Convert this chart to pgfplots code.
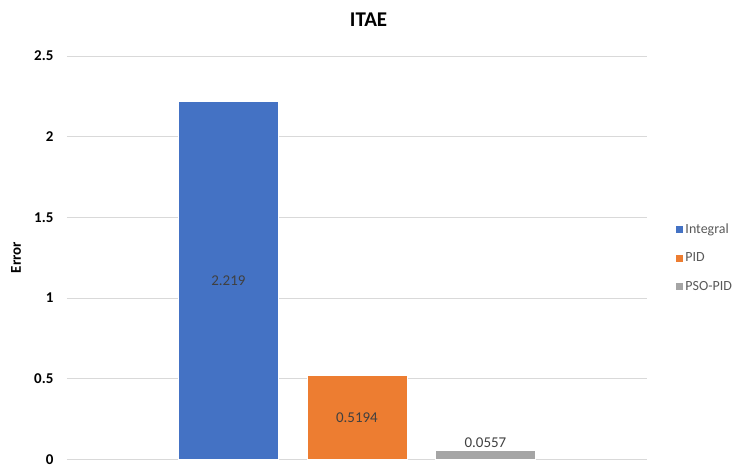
\documentclass[border=0pt]{standalone}
\usepackage{pgfplots}
\pgfplotsset{compat=1.18}
\usepackage{fontspec}
\setmainfont{Carlito}
\definecolor{cblue}{HTML}{4472C4}
\definecolor{corange}{HTML}{ED7D31}
\definecolor{cgray}{HTML}{A5A5A5}
\definecolor{gridc}{HTML}{D9D9D9}
\definecolor{labc}{HTML}{404040}
\definecolor{legc}{HTML}{595959}
\begin{document}
\begin{tikzpicture}
\begin{axis}[
  name=ax,
  scale only axis,
  width=581pt, height=404pt,
  xmin=-0.257, xmax=4.257,
  ymin=0, ymax=2.5,
  enlarge x limits=false,
  enlarge y limits=false,
  ytick={0,0.5,1,1.5,2,2.5},
  yticklabels={0,0.5,1,1.5,2,2.5},
  xtick=\empty,
  axis line style={draw=none},
  ymajorgrids, grid style={gridc, line width=0.8pt},
  major tick length=0pt,
  yticklabel style={font=\fontsize{15}{15}\selectfont\bfseries, text=black, xshift=-10pt},
  ylabel={\bfseries Error},
  ylabel style={font=\fontsize{15}{15}\selectfont, at={(axis description cs:-0.073,0.5)}, anchor=south},
  title={\bfseries ITAE},
  title style={font=\fontsize{21}{21}\selectfont, at={(axis description cs:0.52,1)}, anchor=south, yshift=20pt},
  ybar, bar width=0.777,
  legend style={draw=none, fill=none, at={(axis description cs:1.043,0.5)}, anchor=west,
    font=\fontsize{14}{14}\selectfont\color{legc}, row sep=14pt, legend cell align=left},
  legend image code/.code={\fill[#1] (0pt,-4pt) rectangle (8pt,4pt);},
  visualization depends on=rawy \as \rawy,
  nodes near coords style={font=\fontsize{15}{15}\selectfont, text=labc},
]
\addplot[fill=cblue, draw=white, bar shift=0pt, nodes near coords, point meta=explicit symbolic,
  every node near coord/.append style={anchor=center, shift={(axis direction cs:0,-\rawy/2)}}]
  coordinates {(1,2.219)[2.219]};
\addlegendentry{Integral}
\addplot[fill=corange, draw=white, bar shift=0pt, nodes near coords, point meta=explicit symbolic,
  every node near coord/.append style={anchor=center, shift={(axis direction cs:0,-\rawy/2)}}]
  coordinates {(2,0.5194)[0.5194]};
\addlegendentry{PID}
\addplot[fill=cgray, draw=white, bar shift=0pt, nodes near coords, point meta=explicit symbolic,
  every node near coord/.append style={anchor=south, yshift=-1pt}]
  coordinates {(3,0.0557)[0.0557]};
\addlegendentry{PSO-PID}
\end{axis}
\path[use as bounding box] ([xshift=-67pt,yshift=-6pt]ax.south west) rectangle ([xshift=89pt,yshift=56pt]ax.north east);
\end{tikzpicture}
\end{document}
